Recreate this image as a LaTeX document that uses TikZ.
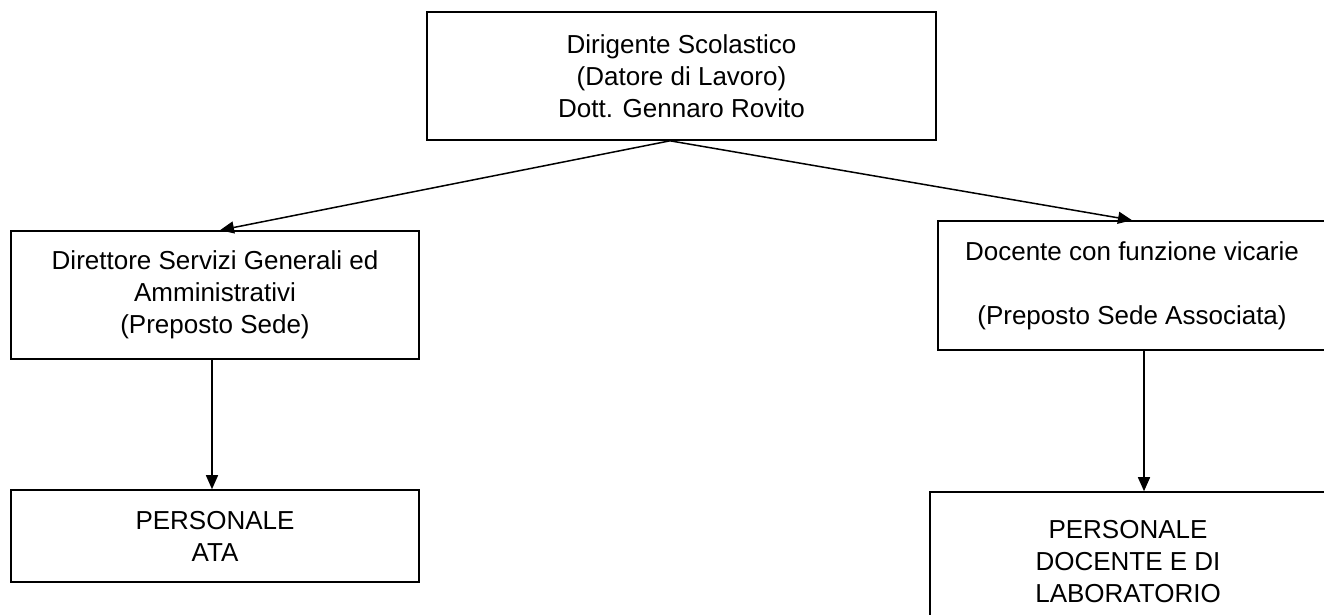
\documentclass[tikz,border=0pt]{standalone}
\usepackage{fontspec}
\setmainfont{Liberation Sans}
\usepackage{tikz}
\usetikzlibrary{arrows.meta}
\tikzset{
    org-box/.style = {draw=black, fill=white, line width=1.6pt, rectangle, inner sep=0pt, align=center, font=\fontsize{26}{32}\selectfont},
    org-arrow/.style = {line width=1.5pt, -{Triangle[length=14pt, width=12pt]}},
}

\begin{document}
\begin{tikzpicture}[x=1pt, y=-1pt]
\useasboundingbox (0,0) rectangle (1324,614);
\node [org-box, minimum width=509pt, minimum height=128pt] (dirigente) at (681.5,76) {Dirigente Scolastico\\(Datore di Lavoro)\\Dott. Gennaro Rovito};
\node [org-box, minimum width=408pt, minimum height=128pt] (dsga) at (215,295) {Direttore Servizi Generali ed\\Amministrativi\\(Preposto Sede)};
\node [org-box, minimum width=388pt, minimum height=129pt] (vicario) at (1132,285.5) {Docente con funzione vicarie\\~\\(Preposto Sede Associata)};
\node [org-box, minimum width=408pt, minimum height=92pt] (ata) at (215,536) {PERSONALE\\ATA};
\node [org-box, minimum width=396pt, minimum height=140pt] (docenti) at (1128,562) {PERSONALE\\DOCENTE E DI\\LABORATORIO};

\draw [org-arrow] ([xshift=-11.5pt]dirigente.south) -- ([xshift=5pt]dsga.north);
\draw [org-arrow] ([xshift=-11.5pt]dirigente.south) -- (vicario.north);
\draw [org-arrow] ([xshift=-3pt]dsga.south) -- ([xshift=-3pt]dsga.south |- ata.north);
\draw [org-arrow] ([xshift=12pt]vicario.south) -- ([xshift=12pt]vicario.south |- docenti.north);
\end{tikzpicture}
\end{document}
